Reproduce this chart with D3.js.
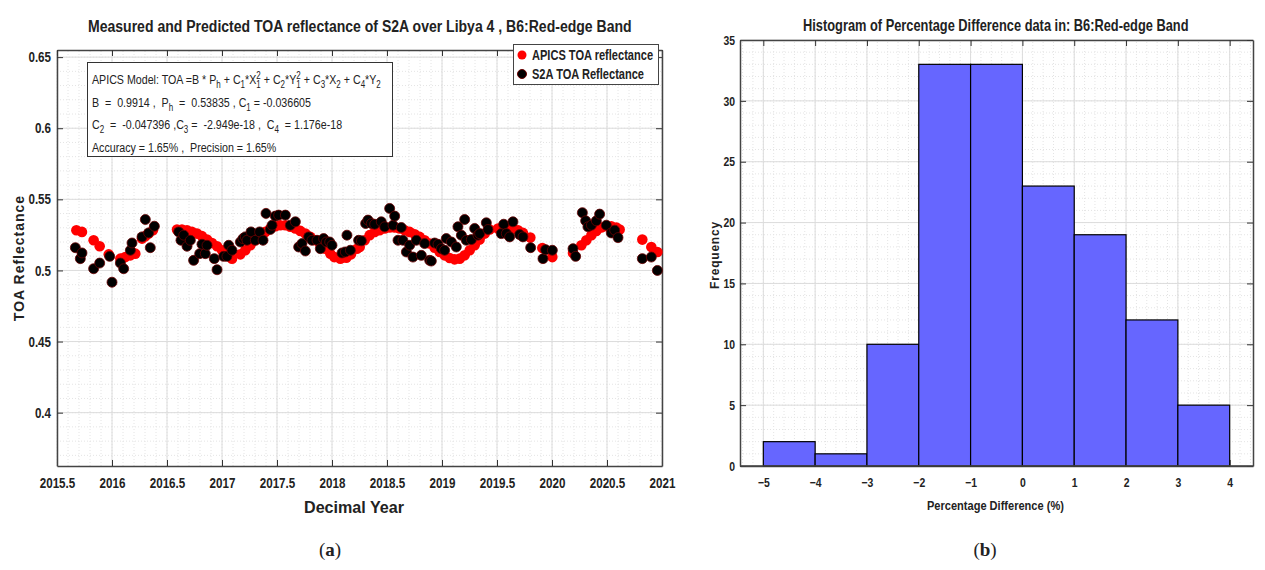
<!DOCTYPE html>
<head>
<meta charset='utf-8'>
<style>
  body { margin: 0; background: #fff; }
  svg text { font-family: 'Liberation Sans', Arial, sans-serif; fill: #222; }
  .tick text { font-weight: bold; }
  .bold { font-weight: bold; }
  .pre { white-space: pre; }
</style>
</head>
<body>
<div id='vis'></div>
<script src='https://cdn.jsdelivr.net/npm/d3@7'></script>
<script>
  // ---- data ----
  // S2A TOA reflectance (black)
  const s2aYear = [2015.667,2015.712,2015.727,2015.833,2015.888,2015.979,2016.000,2016.076,2016.106,2016.167,2016.182,2016.273,2016.303,2016.333,2016.348,2016.385,
    2016.606,2016.627,2016.652,2016.682,2016.712,2016.742,2016.797,2016.818,2016.848,2016.864,2016.930,2016.955,2017.015,2017.045,2017.061,2017.091,
    2017.167,2017.191,2017.212,2017.227,2017.264,2017.303,2017.342,2017.373,2017.400,2017.439,2017.455,2017.485,2017.515,2017.576,2017.621,2017.667,
    2017.697,2017.727,2017.758,2017.788,2017.818,2017.864,2017.894,2017.924,2017.948,2017.979,2018.000,2018.091,2018.121,2018.136,2018.167,2018.242,
    2018.267,2018.306,2018.327,2018.358,2018.388,2018.448,2018.479,2018.524,2018.555,2018.570,2018.600,2018.630,2018.645,2018.676,2018.706,2018.736,
    2018.767,2018.812,2018.842,2018.888,2018.903,2018.933,2018.964,2018.994,2019.024,2019.039,2019.085,2019.130,2019.145,2019.176,2019.206,2019.221,
    2019.267,2019.297,2019.327,2019.342,2019.403,2019.418,2019.539,2019.561,2019.585,2019.615,2019.645,2019.706,2019.736,2019.806,2019.918,2019.942,
    2020.003,2020.191,2020.215,2020.276,2020.306,2020.327,2020.358,2020.403,2020.433,2020.494,2020.539,2020.570,2020.600,2020.821,2020.903,2020.958]
  const s2aToa = [0.5160,0.5083,0.5123,0.5012,0.5052,0.5099,0.4917,0.5052,0.5012,0.5142,0.5193,0.5236,0.5358,0.5264,0.5160,0.5311,
    0.5271,0.5212,0.5248,0.5170,0.5212,0.5071,0.5118,0.5184,0.5118,0.5177,0.5083,0.5005,0.5099,0.5099,0.5177,0.5142,
    0.5200,0.5224,0.5236,0.5212,0.5271,0.5212,0.5271,0.5212,0.5401,0.5288,0.5318,0.5382,0.5389,0.5389,0.5318,0.5342,
    0.5165,0.5189,0.5137,0.5236,0.5212,0.5212,0.5153,0.5224,0.5200,0.5200,0.5177,0.5123,0.5130,0.5248,0.5142,0.5212,
    0.5208,0.5330,0.5354,0.5330,0.5325,0.5342,0.5307,0.5436,0.5318,0.5382,0.5212,0.5302,0.5212,0.5130,0.5177,0.5094,
    0.5212,0.5106,0.5189,0.5071,0.5066,0.5193,0.5184,0.5153,0.5142,0.5224,0.5200,0.5165,0.5307,0.5248,0.5358,0.5212,
    0.5217,0.5295,0.5248,0.5259,0.5335,0.5288,0.5259,0.5325,0.5259,0.5236,0.5342,0.5252,0.5236,0.5160,0.5083,0.5146,
    0.5142,0.5153,0.5099,0.5406,0.5349,0.5307,0.5318,0.5349,0.5396,0.5318,0.5264,0.5283,0.5231,0.5083,0.5094,0.5000]

  // APICS model TOA reflectance (red)
  const apicsYear = [2015.676,2015.727,2015.833,2015.888,2015.970,2016.076,2016.121,2016.167,2016.212,2016.273,2016.303,2016.333,2016.372,
    2016.591,2016.636,2016.682,2016.727,2016.773,2016.818,2016.864,2016.909,2016.955,2017.000,2017.045,2017.091,
    2017.167,2017.212,2017.258,2017.303,2017.348,2017.394,2017.439,2017.485,2017.530,2017.576,2017.621,2017.667,2017.712,2017.758,
    2017.803,2017.848,2017.894,2017.939,2017.985,2018.021,2018.076,2018.130,2018.173,2018.227,
    2018.252,2018.297,2018.342,2018.388,2018.433,2018.479,2018.524,2018.570,2018.615,2018.661,2018.706,2018.752,2018.797,2018.842,
    2018.888,2018.933,2018.979,2019.024,2019.070,2019.115,2019.161,2019.206,2019.252,2019.297,2019.342,2019.388,2019.433,
    2019.509,2019.555,2019.600,2019.645,2019.691,2019.736,2019.803,2019.912,2020.003,
    2020.191,2020.267,2020.312,2020.358,2020.403,2020.448,2020.494,2020.539,2020.585,2020.615,2020.821,2020.903,2020.958]
  const apicsToa = [0.5283,0.5271,0.5212,0.5170,0.5113,0.5083,0.5094,0.5106,0.5118,0.5224,0.5241,0.5259,0.5283,
    0.5288,0.5288,0.5283,0.5271,0.5259,0.5241,0.5217,0.5193,0.5170,0.5142,0.5106,0.5083,
    0.5113,0.5142,0.5177,0.5212,0.5241,0.5271,0.5295,0.5311,0.5318,0.5318,0.5307,0.5295,0.5278,0.5259,
    0.5236,0.5212,0.5184,0.5153,0.5118,0.5094,0.5083,0.5090,0.5113,0.5153,
    0.5165,0.5212,0.5248,0.5271,0.5283,0.5295,0.5302,0.5302,0.5295,0.5283,0.5271,0.5255,0.5236,0.5212,
    0.5189,0.5160,0.5130,0.5106,0.5087,0.5078,0.5083,0.5106,0.5142,0.5177,0.5217,0.5259,0.5288,
    0.5295,0.5307,0.5307,0.5295,0.5283,0.5264,0.5231,0.5158,0.5094,
    0.5123,0.5177,0.5212,0.5248,0.5278,0.5302,0.5311,0.5311,0.5302,0.5288,0.5217,0.5165,0.5130]

  const yearTicks = [2015.5,2016,2016.5,2017,2017.5,2018,2018.5,2019,2019.5,2020,2020.5,2021]
  const toaTicks = [0.4,0.45,0.5,0.55,0.6,0.65]

  // histogram of percentage difference
  const binEdges = [-5,-4,-3,-2,-1,0,1,2,3,4]
  const binCounts = [2,1,10,33,33,23,19,12,5]
  const pdTicks = [-5,-4,-3,-2,-1,0,1,2,3,4]
  const freqTicks = [0,5,10,15,20,25,30,35]

  const K = 0.8   // horizontal squeeze, the picture uses a narrow font

  const svg = d3.select('#vis').append('svg')
    .attr('width', 1265).attr('height', 570)

  // fake a condensed face: move x/y into a transform and scale x
  function squeeze(sel, k) {
    sel.each(function() {
      const t = d3.select(this)
      const tx = +t.attr('x') || 0, ty = +t.attr('y') || 0
      t.attr('x', 0).attr('y', 0).attr('transform', `translate(${tx},${ty}) scale(${k},1)`)
    })
  }
  // squeeze a label so it spans a given width
  function fitText(t, w) {
    squeeze(t, w / t.node().getComputedTextLength())
  }

  // MATLAB-ish axes box with inward ticks and grid
  function frame(g, x, y, xt, yt, xMinor, yMinor, fs, ypad) {
    const [x0, x1] = x.range(), [y0, y1] = y.range()
    g.append('rect').attr('x', x0).attr('y', y1).attr('width', x1 - x0).attr('height', y0 - y1).attr('fill', '#fff')
    g.selectAll('.mx').data(xMinor).join('line')
      .attr('x1', d => x(d)).attr('x2', d => x(d)).attr('y1', y0).attr('y2', y1)
      .attr('stroke', '#e4e4e4').attr('stroke-dasharray', '1,2')
    g.selectAll('.my').data(yMinor).join('line')
      .attr('y1', d => y(d)).attr('y2', d => y(d)).attr('x1', x0).attr('x2', x1)
      .attr('stroke', '#e4e4e4').attr('stroke-dasharray', '1,2')
    g.selectAll('.gx').data(xt).join('line')
      .attr('x1', d => x(d)).attr('x2', d => x(d)).attr('y1', y0).attr('y2', y1)
      .attr('stroke', '#dcdcdc')
    g.selectAll('.gy').data(yt).join('line')
      .attr('y1', d => y(d)).attr('y2', d => y(d)).attr('x1', x0).attr('x2', x1)
      .attr('stroke', '#dcdcdc')

    const bx = g.append('g').attr('transform', `translate(0,${y0})`)
      .call(d3.axisBottom(x).tickValues(xt).tickSizeInner(-6).tickSizeOuter(0).tickPadding(12).tickFormat(d3.format('')))
    const by = g.append('g').attr('transform', `translate(${x0},0)`)
      .call(d3.axisLeft(y).tickValues(yt).tickSizeInner(-6).tickSizeOuter(0).tickPadding(ypad).tickFormat(d3.format('')))
    const tx = g.append('g').attr('transform', `translate(0,${y1})`)
      .call(d3.axisTop(x).tickValues(xt).tickSizeInner(-6).tickSizeOuter(0).tickFormat(''))
    const ty = g.append('g').attr('transform', `translate(${x1},0)`)
      .call(d3.axisRight(y).tickValues(yt).tickSizeInner(-6).tickSizeOuter(0).tickFormat(''))
    for (const a of [bx, by, tx, ty]) {
      a.select('.domain').attr('stroke', '#444').attr('stroke-width', 1.5)
      a.selectAll('.tick line').attr('stroke', '#333')
      a.selectAll('.tick text').attr('font-size', fs).attr('fill', '#222')
    }
    squeeze(bx.selectAll('.tick text'), K)
    squeeze(by.selectAll('.tick text'), K)
  }

  // rich text with _{sub} and ^{sup}; _{a}^{b} stacked
  function rich(t, str, fs) {
    const re = /_\{([^}]*)\}\^\{([^}]*)\}|_\{([^}]*)\}|\^\{([^}]*)\}|([^_^]+)/g
    const small = fs * 0.75
    let off = 0, m
    while ((m = re.exec(str))) {
      if (m[5] !== undefined) {
        t.append('tspan').attr('dy', -off).attr('font-size', fs).text(m[5]); off = 0
      } else if (m[3] !== undefined) {
        t.append('tspan').attr('dy', 4 - off).attr('font-size', small).text(m[3]); off = 4
      } else if (m[4] !== undefined) {
        t.append('tspan').attr('dy', -5 - off).attr('font-size', small).text(m[4]); off = -5
      } else {
        const s1 = t.append('tspan').attr('dy', 4 - off).attr('font-size', small).text(m[1])
        const w = s1.node().getComputedTextLength()
        t.append('tspan').attr('dx', -w).attr('dy', -9).attr('font-size', small).text(m[2]); off = -5
      }
    }
  }

  // ---------------- (a) scatter ----------------
  const x = d3.scaleLinear().domain([2015.5, 2021]).range([57, 662])
  const y = d3.scaleLinear().domain([0.3625, 0.655]).range([466, 50])
  const ga = svg.append('g')
  frame(ga, x, y, yearTicks, toaTicks,
    d3.range(2015.5, 2021.001, 0.1), d3.range(0.37, 0.655, 0.01), 14.5, 6)

  const apics = apicsYear.map((d, i) => ({yr: d, v: apicsToa[i]}))
  const s2a = s2aYear.map((d, i) => ({yr: d, v: s2aToa[i]}))

  ga.append('g').selectAll('circle').data(apics).join('circle')
    .attr('cx', d => x(d.yr)).attr('cy', d => y(d.v)).attr('r', 5.3)
    .attr('fill', '#ff0000')
  ga.append('g').selectAll('circle').data(s2a).join('circle')
    .attr('cx', d => x(d.yr)).attr('cy', d => y(d.v)).attr('r', 5)
    .attr('fill', '#000').attr('stroke', '#6a0000').attr('stroke-width', 0.8)

  fitText(svg.append('text').attr('class', 'bold').attr('x', 88).attr('y', 32).attr('font-size', 17)
    .text('Measured and Predicted TOA reflectance of S2A over Libya 4 , B6:Red-edge Band'), 544)
  fitText(svg.append('text').attr('class', 'bold').attr('x', 304).attr('y', 513).attr('font-size', 16.5)
    .text('Decimal Year'), 100)
  svg.append('text').attr('transform', 'translate(24,258) rotate(-90)')
    .attr('text-anchor', 'middle').attr('font-size', 14).attr('font-weight', 'bold')
    .attr('letter-spacing', 1).text('TOA Reflectance')

  // model text box
  const tb = ga.append('g')
  tb.append('rect').attr('x', 87.5).attr('y', 62.5).attr('width', 305).attr('height', 94)
    .attr('fill', '#fff').attr('stroke', '#333').attr('stroke-width', 1)
  const lines = [
    'APICS Model: TOA =B * P_{h} + C_{1}*X_{1}^{2} + C_{2}*Y_{1}^{2} + C_{3}*X_{2} + C_{4}*Y_{2}',
    'B  =  0.9914 ,  P_{h}  =  0.53835 , C_{1} = -0.036605',
    'C_{2}  =  -0.047396 ,C_{3} =  -2.949e-18 ,  C_{4}  = 1.176e-18',
    'Accuracy = 1.65% ,  Precision = 1.65%'
  ]
  lines.forEach((s, i) => {
    const t = tb.append('text').attr('class', 'pre').attr('x', 92).attr('y', 84 + i * 22.5)
    rich(t, s, 13.5)
    squeeze(t, 0.79)
  })

  // legend
  const lg = ga.append('g')
  lg.append('rect').attr('x', 513.5).attr('y', 44.5).attr('width', 145).attr('height', 40)
    .attr('fill', '#fff').attr('stroke', '#444')
  const legItems = [['APICS TOA reflectance', '#ff0000'], ['S2A TOA Reflectance', '#000']]
  legItems.forEach((d, i) => {
    lg.append('circle').attr('cx', 522).attr('cy', 55 + i * 19).attr('r', 4.5).attr('fill', d[1])
      .attr('stroke', i ? '#6a0000' : 'none')
    const t = lg.append('text').attr('class', 'bold').attr('x', 532).attr('y', 60 + i * 19)
      .attr('font-size', 14).text(d[0])
    squeeze(t, 0.79)
  })

  // ---------------- (b) histogram ----------------
  const xh = d3.scaleLinear().domain([-5.45, 4.45]).range([740, 1253])
  const yh = d3.scaleLinear().domain([0, 35]).range([466, 40])
  const gb = svg.append('g')
  frame(gb, xh, yh, pdTicks, freqTicks, d3.range(-5.4, 4.45, 0.2), d3.range(0, 35, 1), 13, 5)

  const bins = binCounts.map((c, i) => ({x0: binEdges[i], x1: binEdges[i + 1], n: c}))
  gb.append('g').selectAll('rect').data(bins).join('rect')
    .attr('x', d => xh(d.x0)).attr('width', d => xh(d.x1) - xh(d.x0))
    .attr('y', d => yh(d.n)).attr('height', d => yh(0) - yh(d.n))
    .attr('fill', '#6666ff').attr('stroke', '#000').attr('stroke-width', 1.2)
  gb.append('line').attr('x1', 740).attr('x2', 1253).attr('y1', 466).attr('y2', 466)
    .attr('stroke', '#444').attr('stroke-width', 1.5)

  fitText(svg.append('text').attr('class', 'bold').attr('x', 803).attr('y', 31).attr('font-size', 16.5)
    .text('Histogram of Percentage Difference data in: B6:Red-edge Band'), 386)
  fitText(svg.append('text').attr('x', 927).attr('y', 510).attr('font-weight', 'bold').attr('font-size', 13.5)
    .text('Percentage Difference (%)'), 137)
  svg.append('text').attr('transform', 'translate(719,255) rotate(-90)')
    .attr('text-anchor', 'middle').attr('font-size', 12).attr('font-weight', 'bold')
    .attr('letter-spacing', 0.8).text('Frequency')

  // panel captions
  const cap = [['a', 330], ['b', 985]]
  cap.forEach(([c, cx]) => {
    const t = svg.append('text').attr('x', cx).attr('y', 556).attr('text-anchor', 'middle')
      .attr('font-size', 19).style('font-family', "'Liberation Serif', 'Times New Roman', serif")
    t.append('tspan').text('(')
    t.append('tspan').attr('font-weight', 'bold').text(c)
    t.append('tspan').text(')')
  })
</script>
</body>
